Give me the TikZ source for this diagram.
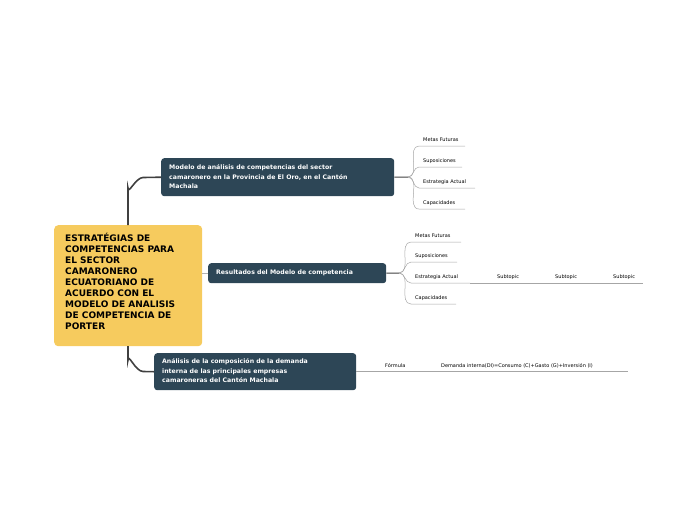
\documentclass[tikz,border=0pt]{standalone}
\usepackage{fontspec}
\setmainfont{DejaVu Sans}
\begin{document}
\begin{tikzpicture}[x=1pt,y=-1pt,
 topic/.style={fill=topicc,rounded corners=3pt,text=white,font=\bfseries\fontsize{6.2}{8.5}\selectfont,align=left,inner sep=0pt,anchor=north west},
 leaf/.style={font=\fontsize{5}{6}\selectfont,anchor=west,inner sep=0pt},
 ln/.style={draw=gray!70,line width=0.5pt},
 trunk/.style={draw=black!75,line width=1.6pt}]
\definecolor{topicc}{HTML}{2D4656}
\definecolor{rootc}{HTML}{F6CB5E}
\useasboundingbox (0,0) rectangle (697,520);
% root
\node[fill=rootc,rounded corners=4pt,minimum width=148pt,minimum height=121pt,anchor=north west,inner sep=0pt] (root) at (54,225) {};
\node[anchor=north west,align=left,font=\bfseries\fontsize{9}{11}\selectfont,inner sep=0pt] (rt) at (65,233) {ESTRATÉGIAS DE\\COMPETENCIAS PARA\\EL SECTOR\\CAMARONERO\\ECUATORIANO DE\\ACUERDO CON EL\\MODELO DE ANALISIS\\DE COMPETENCIA DE\\PORTER};
% topics
\node[topic,minimum width=233pt,minimum height=38pt] (t1) at (161,158) {};
\node[anchor=west,text=white,font=\bfseries\fontsize{6.2}{9.5}\selectfont,align=left,inner sep=0pt] at (169,177) {Modelo de análisis de competencias del sector\\camaronero en la Provincia de El Oro, en el Cantón\\Machala};
\node[topic,minimum width=178pt,minimum height=20pt] (t2) at (208,263) {};
\node[anchor=west,text=white,font=\bfseries\fontsize{6.2}{8}\selectfont,inner sep=0pt] at (216,273) {Resultados del Modelo de competencia};
\node[topic,minimum width=202pt,minimum height=37pt] (t3) at (154,353) {};
\node[anchor=west,text=white,font=\bfseries\fontsize{6.2}{9.5}\selectfont,align=left,inner sep=0pt] at (162,371) {Análisis de la composición de la demanda\\interna de las principales empresas\\camaroneras del Cantón Machala};
% trunks
\coordinate (r1) at (128,225); \coordinate (r3) at (128,346);
\draw[trunk] (r1) -- (128,188) to[out=-90,in=180] (143,177.5) -- (t1.west);
\draw[trunk] (r3) -- (128,360) to[out=90,in=180] (143,371.5) -- (t3.west);
\draw[draw=gray!60,line width=1pt] (root.east |- t2.west) -- (t2.west);
% leaves t1
\coordinate (f1) at (408,177);
\draw[draw=black!75,line width=1pt] (t1.east) -- (f1);
\foreach \y/\t/\e [count=\i] in {146/Metas Futuras/465,167/Suposiciones/462,188/Estrategia Actual/475,209/Capacidades/465}{
 \node[leaf] (a\i) at (423,\y-6) {\t};
 \draw[ln] (f1) to[out=0,in=180] (419,\y) -- (\e,\y);
}
% leaves t2
\coordinate (f2) at (399,273);
\draw[draw=black!75,line width=1pt] (t2.east) -- (f2);
\foreach \y/\t/\e [count=\i] in {242/Metas Futuras/461,262/Suposiciones/457,283/Estrategia Actual/470,304/Capacidades/456}{
 \node[leaf] (b\i) at (415,\y-6) {\t};
 \draw[ln] (f2) to[out=0,in=180] (411,\y) -- (\e,\y);
}
\draw[ln] (470,283) -- (643,283);
\node[leaf] (s1) at (497,277) {Subtopic};
\node[leaf] (s2) at (555,277) {Subtopic};
\node[leaf] (s3) at (613,277) {Subtopic};
% t3 leaves
\draw[ln] (t3.east |- 0,371) -- (628,371);
\node[leaf] (fo) at (385,366) {Fórmula};
\node[leaf] (de) at (441,366) {Demanda interna(DI)=Consumo (C)+Gasto (G)+Inversión (I)};
\end{tikzpicture}
\end{document}
